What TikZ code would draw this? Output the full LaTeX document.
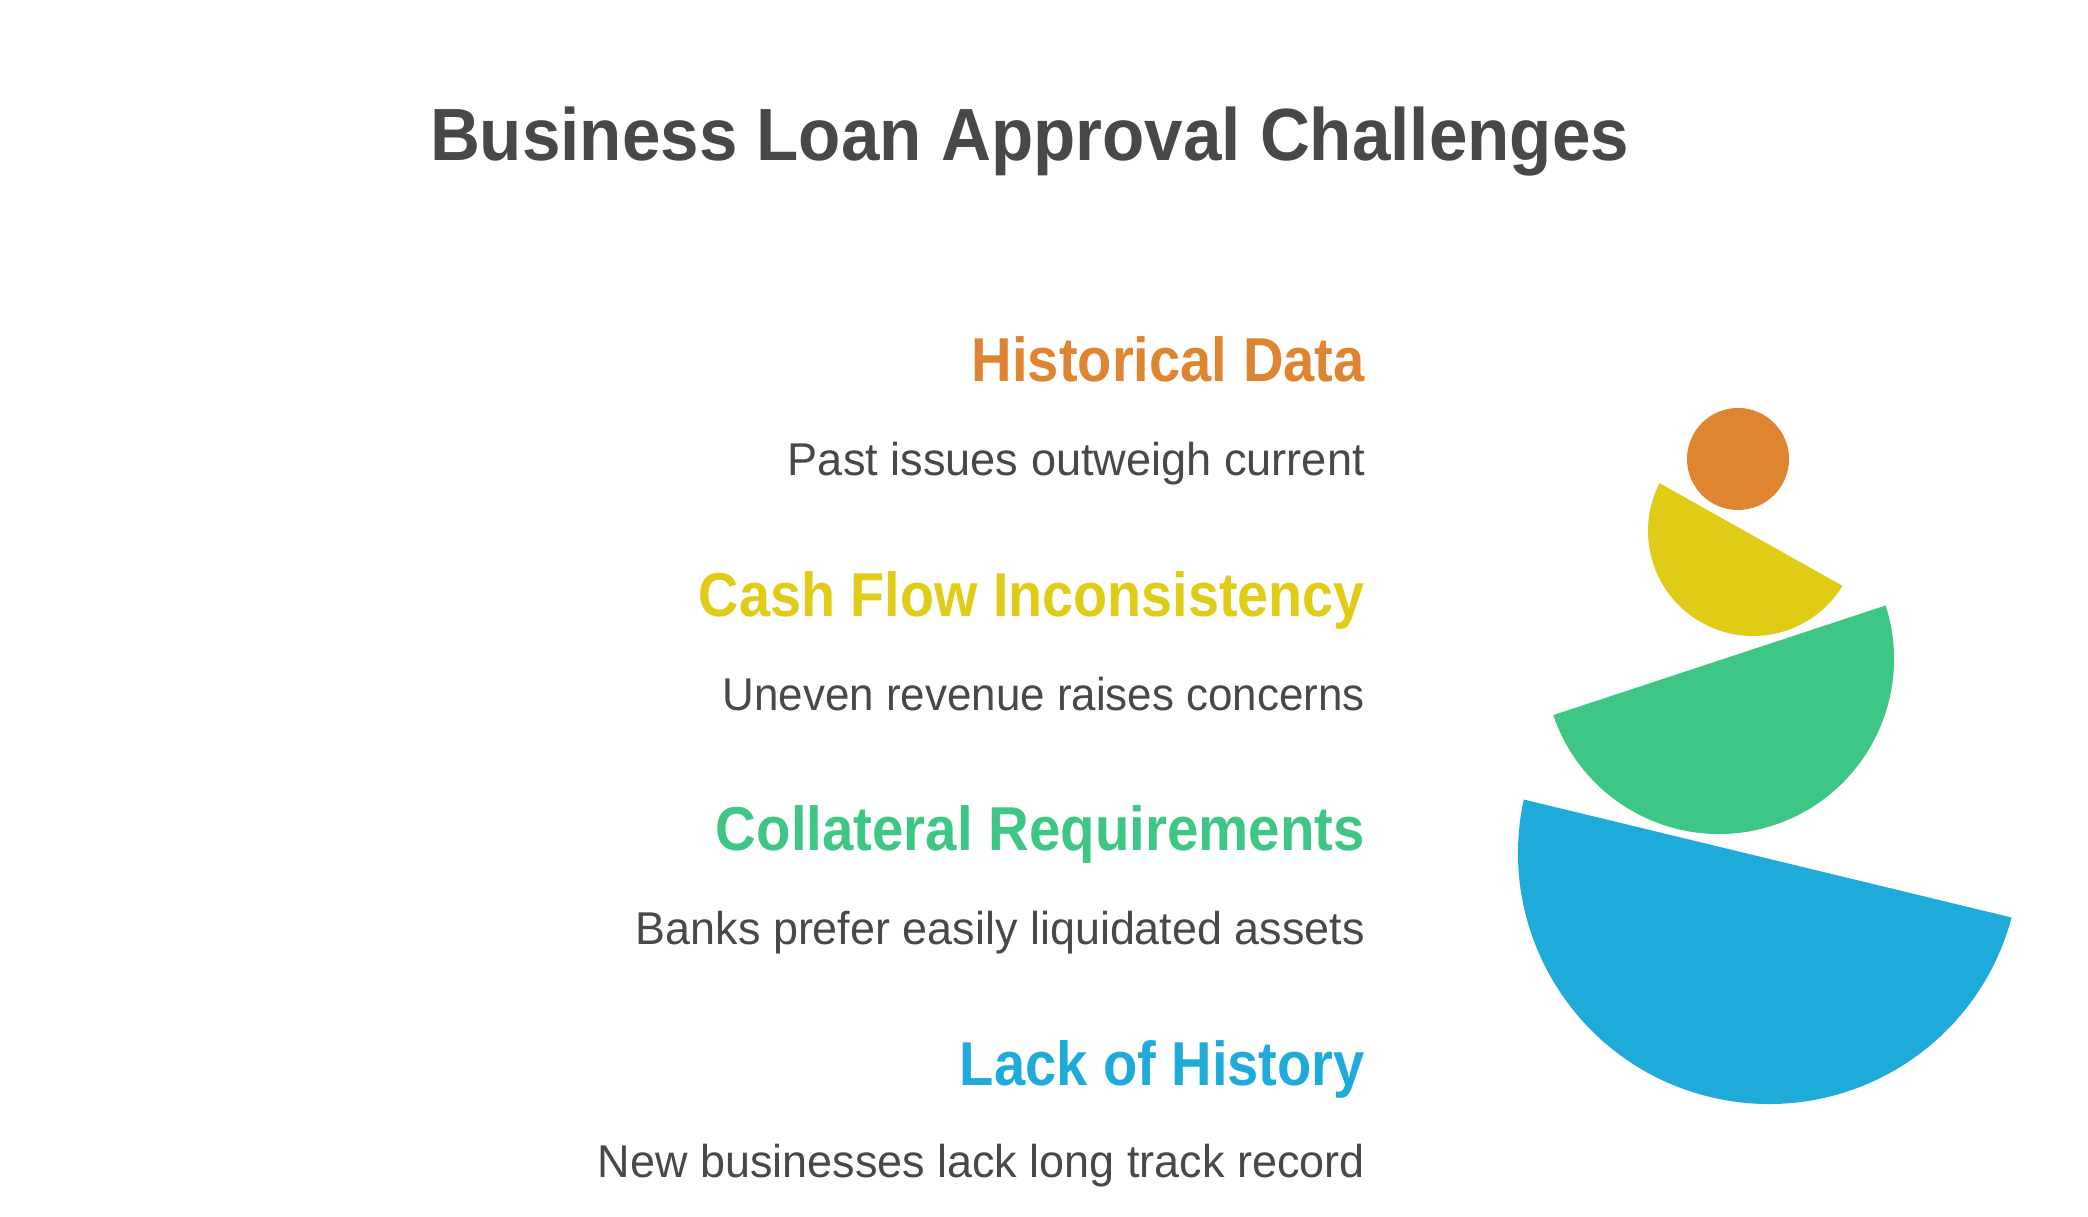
\documentclass[tikz,border=0pt]{standalone}
\usepackage{fontspec}
\setmainfont{Liberation Sans}
\usepackage{graphicx}
\definecolor{txtgray}{HTML}{484848}
\definecolor{corange}{HTML}{DF8431}
\definecolor{cyellow}{HTML}{E0CC16}
\definecolor{cgreen}{HTML}{3EC685}
\definecolor{cblue}{HTML}{1FABDA}
\newsavebox\fitbox
\newcommand\fitw[2]{\sbox\fitbox{#2}\pgfmathsetmacro\fitsx{#1/\the\wd\fitbox}\scalebox{\fitsx}[1]{\usebox\fitbox}}
\tikzset{
  titletext/.style={anchor=base, inner sep=0pt, text=txtgray, font=\fontsize{74}{80}\selectfont\bfseries},
  headtext/.style={anchor=base east, inner sep=0pt, font=\fontsize{62}{68}\selectfont\bfseries},
  bodytext/.style={anchor=base east, inner sep=0pt, text=txtgray, font=\fontsize{46}{52}\selectfont}
}
\begin{document}
\begin{tikzpicture}[x=1pt,y=1pt]
\fill[white] (0,0) rectangle (2088,1216);
\useasboundingbox (0,0) rectangle (2088,1216);
% title
\node[titletext] (title) at (1029.5,1055) {\fitw{1199}{Business Loan Approval Challenges}};
% headings and descriptions
\node[headtext, text=corange] (h1) at (1365,834) {\fitw{393}{Historical Data}};
\node[bodytext] (d1) at (1365,740) {\fitw{577}{Past issues outweigh current}};
\node[headtext, text=cyellow] (h2) at (1365,599) {\fitw{666}{Cash Flow Inconsistency}};
\node[bodytext] (d2) at (1365,505) {\fitw{642}{Uneven revenue raises concerns}};
\node[headtext, text=cgreen] (h3) at (1365,365) {\fitw{649}{Collateral Requirements}};
\node[bodytext] (d3) at (1365,271) {\fitw{729}{Banks prefer easily liquidated assets}};
\node[headtext, text=cblue] (h4) at (1365,131) {\fitw{405}{Lack of History}};
\node[bodytext] (d4) at (1365,39) {\fitw{767}{New businesses lack long track record}};
% stacked shapes
\fill[cblue] (1769,363) ++(167.7:251) arc[start angle=167.7, end angle=345.1, radius=251] -- cycle;
\fill[cgreen] (1719,557) ++(198.7:175) arc[start angle=198.7, end angle=377.8, radius=175] -- cycle;
\fill[cyellow] (1753,685) ++(152.9:105) arc[start angle=152.9, end angle=328.5, radius=105] -- cycle;
\fill[corange] (1738,757) circle[radius=51];
\end{tikzpicture}
\end{document}
